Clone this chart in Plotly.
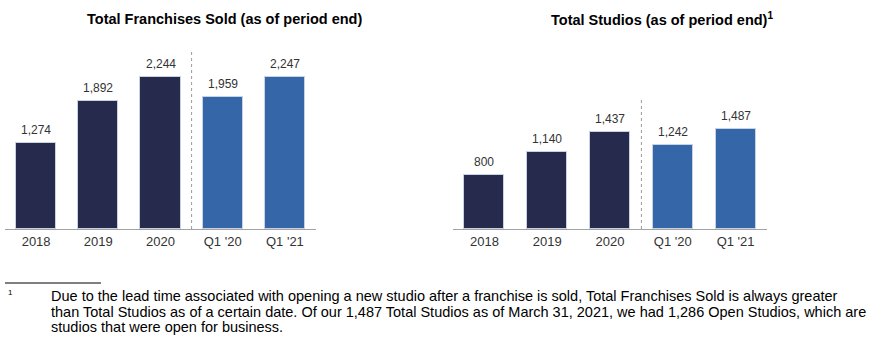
import plotly.graph_objects as go

# Period labels shared by both panels
periods = ["2018", "2019", "2020", "Q1 '20", "Q1 '21"]

# Total franchises sold and total studios at each period end
franchises_sold = [1274, 1892, 2244, 1959, 2247]
total_studios = [800, 1140, 1437, 1242, 1487]

# Annual periods in navy, quarterly periods in blue
NAVY = "#262a4d"
BLUE = "#3466a8"
bar_colors = [NAVY, NAVY, NAVY, BLUE, BLUE]

W, H = 882, 342


def px_x(p):
    return p / W


def px_y(p):
    return 1 - p / H


BASE = 229  # pixel row of the category axis
Y_MAX = 3390
FONT = "Liberation Sans, Arial, sans-serif"

fig = go.Figure()

fig.add_trace(go.Bar(
    x=periods, y=franchises_sold, xaxis="x", yaxis="y",
    marker=dict(color=bar_colors, line=dict(color="#c9d2e4", width=1)),
    width=0.645, hoverinfo="skip", showlegend=False,
))
fig.add_trace(go.Bar(
    x=periods, y=total_studios, xaxis="x2", yaxis="y2",
    marker=dict(color=bar_colors, line=dict(color="#c9d2e4", width=1)),
    width=0.635, hoverinfo="skip", showlegend=False,
))

axis_common = dict(
    type="category", showgrid=False, zeroline=False,
    showline=True, linecolor="#a3a3a3", linewidth=1,
    ticks="", tickfont=dict(family=FONT, size=13, color="#333333"),
    fixedrange=True,
)
yaxis_common = dict(
    range=[0, Y_MAX], visible=False, showgrid=False, zeroline=False, fixedrange=True,
    domain=[px_y(BASE), 1],
)

fig.update_layout(
    width=W, height=H,
    margin=dict(l=0, r=0, t=0, b=0),
    paper_bgcolor="white", plot_bgcolor="white",
    bargap=0,
    xaxis=dict(domain=[px_x(5), px_x(316)], anchor="y", range=[-0.5, 4.5], **axis_common),
    yaxis=dict(anchor="x", **yaxis_common),
    xaxis2=dict(domain=[px_x(453), px_x(767)], anchor="y2", range=[-0.5, 4.5], **axis_common),
    yaxis2=dict(anchor="x2", **yaxis_common),
)

label_font = dict(family=FONT, size=12, color="#333333")
annotations = []
for xa, ya, values in (("x", "y", franchises_sold), ("x2", "y2", total_studios)):
    # category positions by index so year-like labels are not read as numbers
    for i, v in enumerate(values):
        annotations.append(dict(
            x=i, y=v, xref=xa, yref=ya, text=f"{v:,}", showarrow=False,
            yanchor="bottom", yshift=4, font=label_font,
        ))

title_font = dict(family=FONT, size=14.5, color="#000000")
annotations.append(dict(
    x=px_x(224), y=px_y(19), xref="paper", yref="paper", showarrow=False,
    text="<b>Total Franchises Sold (as of period end)</b>", font=title_font,
    xanchor="center", yanchor="middle",
))
annotations.append(dict(
    x=px_x(662), y=px_y(19), xref="paper", yref="paper", showarrow=False,
    text="<b>Total Studios (as of period end)<sup>1</sup></b>", font=title_font,
    xanchor="center", yanchor="middle",
))

# Footnote
note_font = dict(family=FONT, size=14.5, color="#000000")
note_lines = [
    "Due to the lead time associated with opening a new studio after a franchise is sold, Total Franchises Sold is always greater",
    "than Total Studios as of a certain date. Of our 1,487 Total Studios as of March 31, 2021, we had 1,286 Open Studios, which are",
    "studios that were open for business.",
]
for i, line in enumerate(note_lines):
    annotations.append(dict(
        x=px_x(49), y=px_y(296 + 15.7 * i), xref="paper", yref="paper", showarrow=False,
        text=line, font=note_font, xanchor="left", yanchor="middle",
    ))
annotations.append(dict(
    x=px_x(6), y=px_y(292), xref="paper", yref="paper", showarrow=False,
    text="1", font=dict(family=FONT, size=8, color="#000000"),
    xanchor="left", yanchor="middle",
))

fig.update_layout(annotations=annotations)

shapes = [
    # annual / quarterly separators
    dict(type="line", xref="x", yref="paper", x0=2.5, x1=2.5,
         y0=px_y(BASE), y1=px_y(51), line=dict(color="#9a9a9a", width=1, dash="dot")),
    dict(type="line", xref="x2", yref="paper", x0=2.5, x1=2.5,
         y0=px_y(BASE), y1=px_y(99), line=dict(color="#9a9a9a", width=1, dash="dot")),
    # footnote rule
    dict(type="line", xref="paper", yref="paper", x0=px_x(5), x1=px_x(101),
         y0=px_y(283), y1=px_y(283), line=dict(color="#000000", width=1)),
]
fig.update_layout(shapes=shapes)

fig.write_html("out.html")
